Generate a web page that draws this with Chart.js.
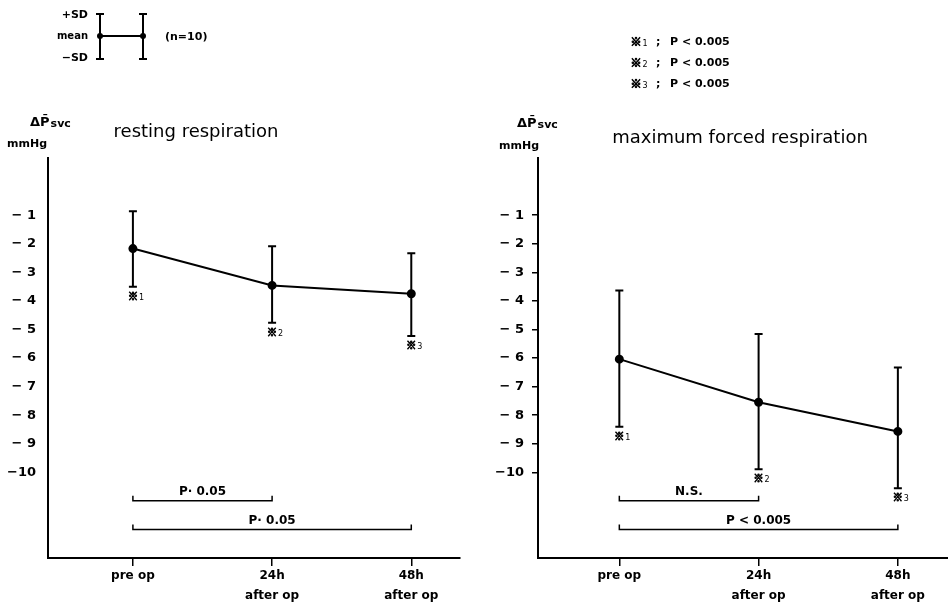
<!DOCTYPE html>
<html>
<head>
<meta charset="utf-8">
<script src="https://cdn.jsdelivr.net/npm/chart.js@4.4.1/dist/chart.umd.min.js"></script>
<style>
body { margin: 0; background: #fff; width: 948px; height: 606px; overflow: hidden; position: relative; }
canvas { position: absolute; top: 0; }
#rest { left: 0; }
#force { left: 474px; }
</style>
</head>
<body>
<canvas id="rest" width="474" height="606"></canvas>
<canvas id="force" width="474" height="606"></canvas>
<script>
// values (mmHg)
const timeLabels = [['pre op'], ['24h', 'after op'], ['48h', 'after op']];
const restMean = [-2.17, -3.46, -3.75];
const restHigh = [-0.86, -2.09, -2.33];
const restLow = [-3.51, -4.77, -5.23];
const forceMean = [-6.04, -7.55, -8.57];
const forceHigh = [-3.64, -5.16, -6.33];
const forceLow = [-8.41, -9.89, -10.56];
const markNums = ['1', '2', '3'];
const compPairs = [[0, 1], [0, 2]];
const compLevels = [-11, -12];
const restComp = ['P· 0.05', 'P· 0.05'];
const forceComp = ['N.S.', 'P < 0.005'];

const FONT = '"DejaVu Sans", sans-serif';
const CJK = '"Noto Sans CJK JP", sans-serif';

function tickText(v) {
    if (v > -1 || v < -10) return '';
    return v === -10 ? '−10' : '− ' + (-v);
}

function asterisk(ctx, x, y, num, size) {
    ctx.font = 'bold ' + size + 'px ' + CJK;
    ctx.textAlign = 'center';
    ctx.textBaseline = 'middle';
    ctx.lineWidth = 1;
    ctx.strokeStyle = '#000';
    ctx.fillText('※', x, y);
    ctx.strokeText('※', x, y);
    ctx.font = Math.round(size * 0.75) + 'px ' + FONT;
    ctx.textAlign = 'left';
    ctx.fillText(num, x + size * 0.6, y + 2);
}

const panelDecor = {
    id: 'panelDecor',
    afterDatasetsDraw(chart, args, o) {
        const {ctx, scales: {x, y}} = chart;
        ctx.save();
        ctx.strokeStyle = '#000';
        ctx.fillStyle = '#000';
        o.mean.forEach((m, i) => {
            const px = x.getPixelForValue(i);
            const top = y.getPixelForValue(o.high[i]);
            const bot = y.getPixelForValue(o.low[i]);
            ctx.lineWidth = 2;
            ctx.beginPath();
            ctx.moveTo(px, top); ctx.lineTo(px, bot);
            ctx.moveTo(px - 4, top); ctx.lineTo(px + 4, top);
            ctx.moveTo(px - 4, bot); ctx.lineTo(px + 4, bot);
            ctx.stroke();
            asterisk(ctx, px, bot + 9, markNums[i], 10);
        });
        // comparison brackets
        compPairs.forEach((p, k) => {
            const x1 = x.getPixelForValue(p[0]);
            const x2 = x.getPixelForValue(p[1]);
            const by = y.getPixelForValue(compLevels[k]);
            ctx.lineWidth = 1.5;
            ctx.beginPath();
            ctx.moveTo(x1, by - 5); ctx.lineTo(x1, by); ctx.lineTo(x2, by); ctx.lineTo(x2, by - 5);
            ctx.stroke();
            ctx.font = 'bold 12px ' + FONT;
            ctx.textAlign = 'center';
            ctx.textBaseline = 'middle';
            ctx.fillText(o.comp[k], (x1 + x2) / 2, by - 9);
        });
        ctx.restore();
    },
    afterDraw(chart, args, o) {
        const ctx = chart.ctx;
        ctx.save();
        ctx.fillStyle = '#000';
        ctx.textBaseline = 'middle';
        // title
        ctx.font = '18px ' + FONT;
        ctx.textAlign = 'center';
        ctx.fillText(o.title, o.titleX, o.titleY);
        // unit label
        ctx.textAlign = 'left';
        ctx.font = 'bold 13px ' + FONT;
        ctx.fillText('ΔP̄', o.unitX, o.unitY);
        const w = ctx.measureText('ΔP̄').width;
        ctx.font = 'bold 11px ' + FONT;
        ctx.fillText('svc', o.unitX + w + 1, o.unitY + 1);
        ctx.textAlign = 'center';
        ctx.font = 'bold 11px ' + FONT;
        ctx.fillText('mmHg', o.mmX, o.mmY);
        if (o.legend) {
            // mean ± SD key
            ctx.textAlign = 'right';
            ctx.font = 'bold 11px ' + FONT;
            ctx.fillText('+SD', 88, 15);
            ctx.font = 'bold 10px ' + FONT;
            ctx.fillText('mean', 88, 36);
            ctx.font = 'bold 11px ' + FONT;
            ctx.fillText('−SD', 88, 58);
            ctx.strokeStyle = '#000';
            ctx.lineWidth = 2;
            ctx.beginPath();
            [100, 143].forEach(lx => {
                ctx.moveTo(lx, 14); ctx.lineTo(lx, 59);
                ctx.moveTo(lx - 4, 14); ctx.lineTo(lx + 4, 14);
                ctx.moveTo(lx - 4, 59); ctx.lineTo(lx + 4, 59);
            });
            ctx.moveTo(100, 36); ctx.lineTo(143, 36);
            ctx.stroke();
            [100, 143].forEach(lx => {
                ctx.beginPath(); ctx.arc(lx, 36, 3, 0, Math.PI * 2); ctx.fill();
            });
            ctx.textAlign = 'left';
            ctx.font = 'bold 11px ' + FONT;
            ctx.fillText('(n=10)', 165, 37);
        }
        if (o.pnotes) {
            [42, 63, 84].forEach((ly, i) => {
                asterisk(ctx, 162, ly, markNums[i], 11);
                ctx.font = 'bold 11px ' + FONT;
                ctx.textAlign = 'left';
                ctx.fillText(';', 182, ly);
                ctx.fillText('P < 0.005', 196, ly);
            });
        }
        ctx.restore();
    }
};

function makePanel(id, mean, high, low, comp, cfg) {
    return new Chart(document.getElementById(id), {
        type: 'line',
        data: {
            datasets: [{
                data: mean.map((v, i) => ({x: i, y: v})),
                borderColor: '#000',
                backgroundColor: '#000',
                borderWidth: 2,
                pointRadius: 3.5,
                pointBackgroundColor: '#000',
                tension: 0
            }]
        },
        plugins: [panelDecor],
        options: {
            responsive: false,
            animation: false,
            layout: {autoPadding: false, padding: {top: 158, right: cfg.padRight, left: 0, bottom: 0}},
            plugins: {
                legend: {display: false},
                tooltip: {enabled: false},
                panelDecor: Object.assign({mean: mean, high: high, low: low, comp: comp}, cfg.decor)
            },
            scales: {
                x: {
                    type: 'linear',
                    min: cfg.xMin,
                    max: cfg.xMax,
                    afterBuildTicks: s => { s.ticks = [0, 1, 2].map(v => ({value: v})); },
                    afterFit: s => { s.height = 48; },
                    border: {display: true, color: '#000', width: 2},
                    grid: {drawOnChartArea: false, drawTicks: true, tickLength: 8, color: '#000', lineWidth: 1.5},
                    ticks: {
                        autoSkip: false,
                        maxRotation: 0,
                        padding: 0,
                        color: '#000',
                        font: {family: FONT, size: 12, weight: 'bold', lineHeight: 1.65},
                        callback: v => timeLabels[v]
                    }
                },
                y: {
                    min: -13,
                    max: 1,
                    afterFit: s => { s.width = cfg.yWidth; },
                    border: {display: true, color: '#000', width: 2},
                    grid: {
                        drawOnChartArea: false,
                        drawTicks: cfg.yTickLen > 0,
                        tickLength: cfg.yTickLen,
                        lineWidth: 1.5,
                        color: c => (c.tick && c.tick.value <= -1 && c.tick.value >= -10) ? '#000' : 'rgba(0,0,0,0)'
                    },
                    ticks: {
                        stepSize: 1,
                        padding: cfg.yPad,
                        color: '#000',
                        font: {family: FONT, size: 13, weight: 'bold'},
                        callback: v => tickText(v)
                    }
                }
            }
        }
    });
}

makePanel('rest', restMean, restHigh, restLow, restComp, {
    padRight: 14, xMin: -0.61, xMax: 2.35, yWidth: 48, yTickLen: 0, yPad: 12,
    decor: {title: 'resting respiration', titleX: 196, titleY: 132, unitX: 30, unitY: 123, mmX: 27, mmY: 144, legend: true}
});

makePanel('force', forceMean, forceHigh, forceLow, forceComp, {
    padRight: 0, xMin: -0.584, xMax: 2.36, yWidth: 64, yTickLen: 6, yPad: 8,
    decor: {title: 'maximum forced respiration', titleX: 266, titleY: 138, unitX: 43, unitY: 124, mmX: 45, mmY: 146, pnotes: true}
});
</script>
</body>
</html>
